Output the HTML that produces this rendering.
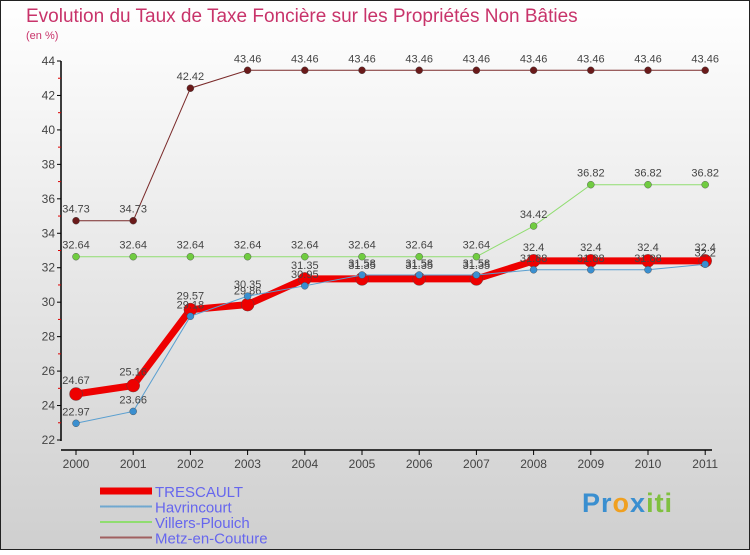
<!DOCTYPE html>
<html><head><meta charset="utf-8"><style>
body{margin:0}
#c{width:750px;height:550px;position:relative;font-family:"Liberation Sans",sans-serif}
</style></head><body>
<div id="c">
<svg id="s" width="750" height="550" xmlns="http://www.w3.org/2000/svg">
<defs><linearGradient id="bg" x1="0" y1="0" x2="0" y2="1"><stop offset="0" stop-color="#ffffff"/><stop offset="1" stop-color="#cfcfcf"/></linearGradient></defs>
<rect x="0.5" y="0.5" width="749" height="549" fill="url(#bg)" stroke="#222"/>
<text x="26" y="22" font-size="19" fill="#c8336a">Evolution du Taux de Taxe Foncière sur les Propriétés Non Bâties</text>
<text x="26" y="39" font-size="11" fill="#c8336a">(en %)</text>
<g id="axes"></g><g id="plot"></g><g id="legend"></g>
</svg>
<div style="position:absolute;left:582px;top:488px;font-size:27px;font-weight:bold;letter-spacing:1px"><span style="color:#3a8fd0">Pr</span><span style="color:#f0a020">o</span><span style="color:#3a8fd0">x</span><span style="color:#80c040">iti</span></div>
</div>
<script>
const years=["2000","2001","2002","2003","2004","2005","2006","2007","2008","2009","2010","2011"];
const yTicks=[22,24,26,28,30,32,34,36,38,40,42,44];
const trescault=[24.67,25.16,29.57,29.86,31.35,31.35,31.35,31.35,32.4,32.4,32.4,32.4];
const havrincourt=[22.97,23.66,29.18,30.35,30.95,31.58,31.58,31.58,31.88,31.88,31.88,32.2];
const villers=[32.64,32.64,32.64,32.64,32.64,32.64,32.64,32.64,34.42,36.82,36.82,36.82];
const metz=[34.73,34.73,42.42,43.46,43.46,43.46,43.46,43.46,43.46,43.46,43.46,43.46];
const NS="http://www.w3.org/2000/svg";
const X=i=>76+57.2*i, Y=v=>440-(v-22)*(379/22);
function mk(t,a,p){const e=document.createElementNS(NS,t);for(const k in a)e.setAttribute(k,a[k]);p.appendChild(e);return e;}
const ax=document.getElementById('axes'),pl=document.getElementById('plot'),lg=document.getElementById('legend');
let l=mk('line',{x1:61,y1:61,x2:61,y2:441,stroke:'#000','stroke-width':1.5},ax);


l=mk('line',{x1:61,y1:450,x2:712,y2:450,stroke:'#000','stroke-width':1.5},ax);


yTicks.forEach((v,i)=>{const y=Y(v);
 mk('line',{x1:57,y1:y,x2:61,y2:y,stroke:'#000'},ax);
 if(i<yTicks.length-1)mk('line',{x1:58,y1:Y(v+1),x2:61,y2:Y(v+1),stroke:'#d00'},ax);
 const t=mk('text',{x:55,y:y+4,'font-size':12,fill:'#444','text-anchor':'end'},ax);t.textContent=v;
 
 
});
years.forEach((yr,i)=>{const x=X(i);
 mk('line',{x1:x,y1:450,x2:x,y2:455,stroke:'#000'},ax);
 const t=mk('text',{x:x,y:468,'font-size':12,fill:'#444','text-anchor':'middle'},ax);t.textContent=yr;
 
 
});
function series(data,color,w,r,name,dot,lab,dy){
 const g=mk('g',{},pl);
 
 
 mk('polyline',{points:data.map((v,i)=>X(i)+','+Y(v)).join(' '),fill:'none',stroke:color,'stroke-width':w},g);
 data.forEach((v,i)=>{const c=mk('circle',{cx:X(i),cy:Y(v),r:r,fill:dot,stroke:'#444','stroke-width':0.4},g);
  
  
  const t=mk('text',{x:X(i),y:Y(v)+dy,'font-size':11,fill:'#444','text-anchor':'middle'},g);t.textContent=v;});
}
series(metz,'#7a2a2a',1,3.5,'metz-en-couture-series','#6a1a1a',1,-8);
series(villers,'#90dd70',1,3.5,'villers-plouich-series','#70cc40',1,-8);
series(trescault,'#ee0000',7,6.5,'trescault-series','#ee0000',1,-10);
series(havrincourt,'#5a9fd0',1,3.5,'havrincourt-series','#3a8fd0',1,-8);
const items=[['TRESCAULT','#ee0000',7],['Havrincourt','#70a8d0',2],['Villers-Plouich','#90dd70',2],['Metz-en-Couture','#a06060',2]];
items.forEach((it,i)=>{const y=491+i*15.5;
 const g=mk('g',{},lg);
 
 
 mk('line',{x1:100,y1:y,x2:152,y2:y,stroke:it[1],'stroke-width':it[2]},g);
 const t=mk('text',{x:155,y:y+6,'font-size':15,fill:'#6666ee'},g);t.textContent=it[0];});
</script>
</body></html>
